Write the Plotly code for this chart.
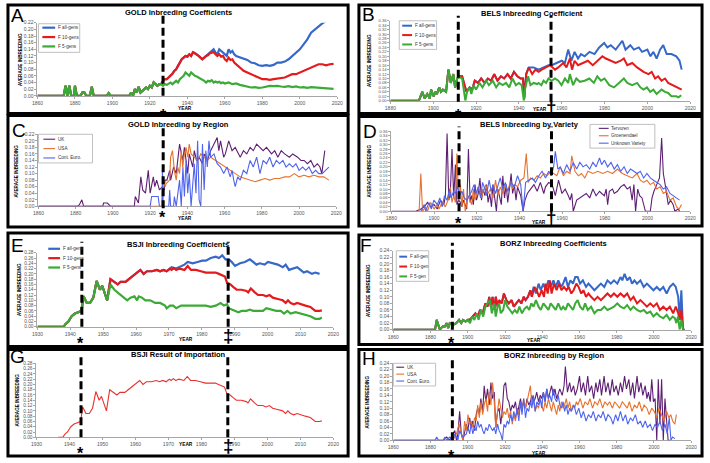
import plotly.graph_objects as go

W, H = 710, 463
def fx(px): return px / W
def fy(py): return 1 - py / H

FONT = "Liberation Sans, Arial, sans-serif"
C_BLUE, C_RED, C_GREEN = "#3568C8", "#E41A1C", "#3BAA36"
C_PUR, C_ORA, C_LBLUE = "#5E1F73", "#E8712C", "#4F64EE"

# ---------------- A: GOLD Inbreeding Coefficients ----------------
GOLD_early_yr = [1860, 1874, 1875, 1876, 1877, 1878, 1879.5, 1880, 1881, 1883, 1884, 1885, 1886, 1888, 1889, 1890,
                 1897, 1898, 1899, 1909, 1910, 1911, 1912, 1913, 1914, 1915, 1916, 1917, 1918, 1919, 1920, 1921,
                 1922, 1923, 1924, 1925, 1926]
GOLD_early_val = [0, 0, 0.03, 0, 0.03, 0, 0, 0.03, 0, 0, 0.01, 0.01, 0, 0, 0.027, 0,
                  0, 0.008, 0, 0, 0.01, 0, 0.02, 0.01, 0.027, 0.01, 0.015, 0.02, 0.025, 0.02, 0.03, 0.025,
                  0.04, 0.035, 0.03, 0.035, 0.035]
GOLD_5_yr = [1927, 1928, 1929, 1930, 1931, 1932, 1933, 1934, 1935, 1936, 1937, 1938, 1939, 1940, 1941, 1942, 1943,
             1944, 1945, 1946, 1947, 1948, 1949, 1950, 1951, 1952, 1953, 1954, 1955, 1956, 1957, 1958, 1959, 1960,
             1962, 1964, 1966, 1968, 1970, 1972, 1974, 1976, 1978, 1980, 1982, 1984, 1986, 1988, 1990, 1992, 1994,
             1996, 1998, 2000, 2002, 2004, 2006, 2008, 2010, 2012, 2014, 2016, 2018]
GOLD_5_val = [0.03, 0.035, 0.033, 0.037, 0.04, 0.035, 0.04, 0.045, 0.04, 0.05, 0.055, 0.06, 0.07, 0.065, 0.06, 0.07, 0.065,
              0.06, 0.058, 0.055, 0.05, 0.048, 0.045, 0.04, 0.045, 0.043, 0.047, 0.04, 0.043, 0.04, 0.042, 0.038, 0.04, 0.037,
              0.04, 0.035, 0.037, 0.033, 0.03, 0.028, 0.025, 0.026, 0.024, 0.025, 0.027, 0.03, 0.029, 0.03, 0.028, 0.027, 0.029,
              0.026, 0.028, 0.025, 0.026, 0.024, 0.026, 0.025, 0.025, 0.023, 0.022, 0.02, 0.021]
GOLD_10_yr = [1927, 1928, 1929, 1930, 1931, 1932, 1933, 1934, 1935, 1936, 1937, 1938, 1939, 1940, 1941, 1942, 1943,
              1944, 1945, 1946, 1947, 1948, 1949, 1950, 1951, 1952, 1953, 1954, 1955, 1956, 1957, 1958, 1959, 1960,
              1961, 1962, 1963, 1964, 1965, 1966, 1967, 1968, 1969, 1970, 1972, 1974, 1976, 1978, 1980, 1982, 1984,
              1986, 1988, 1990, 1992, 1994, 1996, 1998, 2000, 2002, 2004, 2006, 2008, 2010, 2012, 2014, 2016, 2018]
GOLD_10_val = [0.045, 0.05, 0.05, 0.055, 0.06, 0.066, 0.075, 0.08, 0.09, 0.1, 0.11, 0.115, 0.12, 0.118, 0.125, 0.12, 0.131,
               0.128, 0.125, 0.12, 0.115, 0.11, 0.115, 0.12, 0.122, 0.128, 0.13, 0.132, 0.125, 0.12, 0.125, 0.118, 0.12, 0.11,
               0.105, 0.115, 0.108, 0.11, 0.1, 0.095, 0.09, 0.085, 0.08, 0.075, 0.07, 0.065, 0.06, 0.055, 0.05, 0.05, 0.048,
               0.05, 0.052, 0.055, 0.055, 0.06, 0.065, 0.065, 0.07, 0.075, 0.08, 0.085, 0.09, 0.095, 0.095, 0.092, 0.095, 0.096]
GOLD_all_yr = [1950, 1951, 1952, 1953, 1954, 1955, 1956, 1957, 1958, 1959, 1960, 1961, 1962, 1963, 1964, 1965, 1966,
               1967, 1968, 1970, 1972, 1974, 1976, 1978, 1980, 1982, 1984, 1986, 1988, 1990, 1992, 1994, 1996, 1998,
               2000, 2002, 2004, 2006, 2008, 2010, 2012, 2014, 2016]
GOLD_all_val = [0.12, 0.125, 0.13, 0.135, 0.14, 0.13, 0.125, 0.14, 0.135, 0.13, 0.125, 0.12, 0.14, 0.13, 0.135, 0.125, 0.12,
                0.118, 0.115, 0.11, 0.108, 0.1, 0.098, 0.092, 0.09, 0.092, 0.09, 0.093, 0.1, 0.1, 0.103, 0.11, 0.12, 0.13,
                0.14, 0.155, 0.17, 0.19, 0.2, 0.21, 0.218, 0.225, 0.23]

# ---------------- B: BELS Inbreeding Coefficient ----------------
BELS_early_yr = [1880, 1893.3, 1894.9, 1896, 1897.2, 1898.4, 1899, 1900.2, 1901, 1901.7, 1902.8, 1903.6, 1904.5, 1906,
                 1907.1, 1908.2, 1909.4, 1910.2, 1911.2]
BELS_early_val = [0, 0, 0.04, 0.01, 0.03, 0.01, 0.05, 0.02, 0.04, 0.03, 0.06, 0.04, 0.05, 0.04, 0.14, 0.08, 0.12, 0.06, 0.1]
BELS_5_yr = [1912.5, 1913.5, 1914.2, 1915, 1915.8, 1917, 1917.8, 1918.8, 1920, 1921.6, 1923, 1924.7, 1926, 1927.8, 1929.4,
             1930.8, 1932.4, 1934, 1935.5, 1937, 1938.6, 1940, 1941.3, 1942.3, 1943, 1944.3, 1945.4, 1946.9, 1948.5, 1949.2,
             1950.5, 1951.5, 1952.7, 1953.8, 1955.3, 1956.8, 1958.4, 1959.9, 1961.5, 1963, 1963.8, 1965.3, 1966.8, 1968.5,
             1970.7, 1972.9, 1975, 1976.6, 1978.3, 1980, 1982.2, 1984.4, 1986.7, 1989, 1990.6, 1992.9, 1995.2, 1996.7,
             1998.2, 1999.8, 2001.3, 2002.8, 2004.3, 2006.6, 2008.2, 2009.7, 2011.2, 2013.5, 2014.5, 2015.8]
BELS_5_val = [0.105, 0.1, 0.06, 0.0, 0.04, 0.06, 0.03, 0.07, 0.05, 0.08, 0.06, 0.09, 0.07, 0.09, 0.06,
              0.08, 0.07, 0.08, 0.06, 0.1, 0.07, 0.08, 0.07, 0.0, 0.06, 0.11, 0.07, 0.08, 0.075, 0.08,
              0.07, 0.09, 0.08, 0.1, 0.09, 0.1, 0.09, 0.07, 0.1, 0.08, 0.12, 0.07, 0.1, 0.085,
              0.09, 0.1, 0.08, 0.11, 0.09, 0.1, 0.07, 0.06, 0.08, 0.1, 0.08, 0.07, 0.08, 0.06,
              0.05, 0.06, 0.04, 0.05, 0.03, 0.05, 0.04, 0.035, 0.02, 0.02, 0.015, 0.025]
BELS_10_yr = [1912.5, 1913.5, 1914.3, 1915.5, 1917, 1918.2, 1919.4, 1920.9, 1922.4, 1924, 1925.5, 1927, 1928.5, 1930,
              1931.6, 1933.1, 1934.7, 1936.2, 1937.7, 1939.3, 1940.8, 1941.9, 1942.5, 1943.4, 1944.6, 1946.2, 1947.7,
              1949.2, 1950.7, 1953, 1954.6, 1956.9, 1958.4, 1960.7, 1962.2, 1963.8, 1964.8, 1966, 1967.6, 1969.9, 1972.2,
              1974.5, 1976.8, 1979, 1980.6, 1982.9, 1985.2, 1987.5, 1989, 1990.6, 1992.9, 1995.2, 1996.7, 1998.2, 2000.5,
              2002, 2003.6, 2005, 2006.6, 2008.2, 2009.7, 2012, 2014.3, 2016]
BELS_10_val = [0.11, 0.11, 0.08, 0.04, 0.06, 0.05, 0.09, 0.08, 0.1, 0.08, 0.1, 0.09, 0.12, 0.09,
               0.11, 0.1, 0.12, 0.1, 0.13, 0.11, 0.1, 0.1, 0.01, 0.12, 0.15, 0.12, 0.14,
               0.13, 0.14, 0.15, 0.16, 0.14, 0.15, 0.17, 0.15, 0.19, 0.14, 0.18, 0.16, 0.17, 0.18,
               0.16, 0.18, 0.2, 0.19, 0.18, 0.17, 0.18, 0.19, 0.16, 0.17, 0.15, 0.14, 0.13, 0.12,
               0.13, 0.1, 0.11, 0.09, 0.1, 0.08, 0.07, 0.06, 0.05]
BELS_all_yr = [1946.9, 1949.2, 1951.5, 1953.8, 1955.3, 1957.6, 1960, 1961.5, 1963, 1964.5, 1966, 1967.6, 1969, 1970.7,
               1973, 1975.3, 1977.5, 1979.8, 1981.3, 1982.9, 1985.2, 1987.5, 1988.3, 1989.8, 1992, 1993.7, 1996, 1997.5,
               2000, 2001.4, 2002.8, 2004.3, 2005.9, 2007.4, 2009, 2011.2, 2013.5, 2015, 2016]
BELS_all_val = [0.15, 0.14, 0.15, 0.16, 0.16, 0.17, 0.18, 0.17, 0.23, 0.18, 0.22, 0.19, 0.21, 0.2,
                0.22, 0.21, 0.24, 0.26, 0.24, 0.25, 0.23, 0.26, 0.27, 0.23, 0.25, 0.23, 0.24, 0.22,
                0.23, 0.2, 0.22, 0.19, 0.23, 0.25, 0.21, 0.21, 0.2, 0.18, 0.14]

# ---------------- C: GOLD Inbreeding by Region ----------------
GOLDR_UK_yr = [1860, 1881, 1882, 1883.3, 1884.3, 1894.5, 1895, 1897, 1898.8, 1911.5, 1912, 1913, 1913.7, 1915, 1916,
               1917.5, 1919, 1920, 1921, 1921.7, 1922.5, 1923.5, 1925, 1926.6, 1927.5, 1928, 1929, 1930.5, 1931, 1932.6,
               1934, 1935.8, 1937.5, 1938.4, 1940.2, 1941, 1942.9, 1943.7, 1944.9, 1946.3, 1948.1, 1949, 1950.7, 1952.5,
               1954.3, 1956, 1956.9, 1957.8, 1959.5, 1960.4, 1962.2, 1964, 1965.7, 1968.4, 1970.1, 1971.9, 1973.7,
               1975.4, 1977.2, 1979, 1980.7, 1982.5, 1985.2, 1986.9, 1988.6, 1990.4, 1992.2, 1994.8, 1996.6, 1999.2,
               2001, 2002.7, 2004.5, 2006.3, 2008, 2009.8, 2011.2, 2012.2, 2013.8]
GOLDR_UK_val = [0, 0, 0.005, 0.02, 0, 0, 0.01, 0.01, 0, 0, 0.03, 0.02, 0.01, 0.09, 0.05,
                0.04, 0.11, 0.04, 0.07, 0.09, 0.06, 0.08, 0.05, 0.06, 0.05, 0.08, 0.08, 0.11, 0.08, 0.12,
                0.1, 0.19, 0.14, 0.18, 0.1, 0.16, 0.12, 0.17, 0.14, 0.15, 0.13, 0.16, 0.14, 0.17,
                0.19, 0.21, 0.17, 0.2, 0.15, 0.16, 0.2, 0.17, 0.18, 0.15, 0.17, 0.16, 0.18,
                0.17, 0.19, 0.18, 0.17, 0.18, 0.16, 0.17, 0.15, 0.17, 0.16, 0.15, 0.16, 0.15,
                0.14, 0.14, 0.13, 0.14, 0.12, 0.13, 0.12, 0.1, 0.17]
GOLDR_USA_yr = [1860, 1926.5, 1927, 1928, 1928.7, 1930.5, 1931, 1932, 1933, 1934, 1934.8, 1935.8, 1936.7, 1937.5, 1938.4,
                1939.3, 1940.2, 1941, 1942, 1943.7, 1945.5, 1947.2, 1949, 1950.7, 1952.5, 1955.2, 1957.8, 1960.4, 1963,
                1965.7, 1968.4, 1971, 1973.7, 1976.4, 1979, 1981.7, 1984.2, 1986.9, 1989.5, 1992.2, 1994.8, 1997.5, 2000,
                2002.7, 2005.3, 2008, 2010.7, 2013.3, 2016]
GOLDR_USA_val = [0, 0, 0.08, 0.06, 0.07, 0.08, 0.15, 0.17, 0.11, 0.08, 0.12, 0.1, 0.17, 0.12, 0.16,
                 0.18, 0.15, 0.19, 0.16, 0.15, 0.14, 0.16, 0.15, 0.14, 0.15, 0.14, 0.13, 0.12, 0.11,
                 0.1, 0.09, 0.085, 0.08, 0.075, 0.08, 0.085, 0.08, 0.085, 0.085, 0.09, 0.09, 0.1, 0.09,
                 0.095, 0.09, 0.095, 0.09, 0.09, 0.08]
GOLDR_EU_yr = [1860, 1920, 1920.8, 1922.5, 1924.3, 1925, 1926.3, 1926.6, 1927, 1930, 1930.5, 1931, 1932.6, 1933, 1934,
               1935.8, 1936.7, 1937.6, 1938.4, 1939.3, 1940.2, 1941, 1942, 1943.7, 1944.6, 1945.5, 1946.3, 1947.2,
               1948.1, 1949, 1949.9, 1950.7, 1951.6, 1952.5, 1954.3, 1956, 1957.8, 1959.5, 1961.3, 1963, 1964, 1964.9,
               1965.7, 1967, 1968.4, 1970.1, 1971.9, 1973.7, 1975.4, 1977.2, 1979, 1980.7, 1982.5, 1984.2, 1986,
               1987.8, 1989.5, 1991.3, 1993, 1994.8, 1996.6, 1998.3, 2000, 2001.9, 2003.6, 2005.3, 2007.1, 2008.9,
               2010.6, 2012.4, 2014, 2016]
GOLDR_EU_val = [0, 0, 0.03, 0.03, 0.03, 0, 0, 0.11, 0, 0, 0.05, 0, 0, 0.03, 0,
                0.08, 0, 0.12, 0.03, 0.14, 0.04, 0.1, 0, 0.13, 0.04, 0.2, 0.02, 0,
                0.19, 0.05, 0.17, 0.12, 0.2, 0.15, 0.16, 0.13, 0.12, 0.1, 0.12, 0.09, 0.11, 0.08,
                0.06, 0.09, 0.08, 0.11, 0.1, 0.14, 0.12, 0.15, 0.1, 0.14, 0.13, 0.15, 0.12,
                0.14, 0.13, 0.14, 0.12, 0.13, 0.12, 0.13, 0.11, 0.12, 0.11, 0.12, 0.1, 0.11,
                0.1, 0.1, 0.11, 0.12]

# ---------------- D: BELS Inbreeding by Variety ----------------
BELSV_TER_yr = [1880, 1891.5, 1893.8, 1895.4, 1896.9, 1898.4, 1900, 1901.5, 1903, 1904.6, 1905.3, 1906.1, 1906.9, 1907.6,
                1908.4, 1909.2, 1910, 1910.7, 1911.5, 1912.3, 1913, 1913.8, 1915.3, 1916.1, 1916.9, 1917.6, 1918.4, 1919.2,
                1919.9, 1920.7, 1921.5, 1922.2, 1923, 1923.8, 1924.6, 1925.3, 1926.1, 1926.9, 1927.6, 1928.4, 1929.2,
                1929.9, 1930.7, 1931.5, 1932.2, 1933, 1933.8, 1934.5, 1935.3, 1936.1, 1936.8, 1937.6, 1938.4, 1939.1,
                1940.6, 1941.7, 1942.6, 1943.7, 1945.2, 1946.8, 1948.3, 1949.8, 1951.4, 1952.2, 1953.7, 1955.3, 1956.8,
                1958.3, 1959.9, 1961.4, 1962.9, 1963.7, 1964.5, 1965.2, 1966.8, 1968.3, 1969.8, 1971.3, 1972.9, 1974.4,
                1975.9, 1977.5, 1978.5, 1979.8, 1980.6, 1981.3, 1982.1, 1983.6, 1984.4, 1985.9, 1987.4, 1989, 1990.5,
                1991.8, 1992.8, 1993.6, 1994.4, 1995.4, 1996.3, 1997.4, 1999, 2001.3, 2002.1, 2003, 2004.3, 2005.6,
                2006.6, 2007.4, 2008.6, 2009.7, 2010.8, 2012, 2012.8, 2014.3, 2015]
BELSV_TER_val = [0, 0, 0.01, 0.02, 0.04, 0.02, 0.03, 0.01, 0.05, 0.03, 0.07, 0.35, 0.05, 0.08,
                 0.28, 0.06, 0.21, 0.03, 0.05, 0.04, 0.02, 0.05, 0.01, 0.28, 0.04, 0.07, 0.03, 0.12,
                 0.05, 0.08, 0.15, 0.05, 0.1, 0.07, 0.12, 0.04, 0.08, 0.02, 0.12, 0.05, 0.0,
                 0.1, 0.07, 0.03, 0.16, 0.06, 0.12, 0.04, 0.1, 0.17, 0.08, 0.12, 0.05, 0.11,
                 0.07, 0.0, 0.05, 0.08, 0.1, 0.12, 0.09, 0.13, 0.08, 0.11, 0.13, 0.12, 0.07,
                 0.14, 0.08, 0.1, 0.07, 0.05, 0.08, 0.0, 0.05, 0.06, 0.07, 0.08, 0.06, 0.1,
                 0.07, 0.09, 0.08, 0.07, 0.1, 0.03, 0.09, 0.1, 0.08, 0.09, 0.11, 0.12, 0.1,
                 0.11, 0.05, 0.12, 0.0, 0.1, 0.07, 0.06, 0.0, 0.0, 0.06, 0.09, 0.12, 0.15,
                 0.33, 0.17, 0.1, 0.03, 0.05, 0.03, 0.0, 0.01, 0.0]
BELSV_GRO_yr = [1893, 1893.8, 1894.6, 1896, 1896.9, 1898.4, 1900, 1901.5, 1902.3, 1903.8, 1905.3, 1906.9, 1907.6, 1908.4,
                1909.2, 1910, 1910.7, 1911.5, 1912.3, 1913, 1913.8, 1914.6, 1916.1, 1917.6, 1918.4, 1919.2, 1919.9, 1920.7,
                1922.2, 1923, 1924.2, 1925.3, 1926.4, 1927.6, 1928.8, 1929.9, 1931, 1932.2, 1933.4, 1934.5, 1935.6, 1936.8,
                1938, 1939.1, 1940.6, 1942.1, 1943.2, 1944.1, 1945.2, 1946.8, 1948.3, 1949.8, 1951.4, 1952.9, 1954.5, 1956,
                1957.5, 1959.1, 1960.6, 1962.1, 1963.7, 1964.5, 1966, 1967.6, 1969.1, 1970.6, 1972.1, 1974.4, 1976.7, 1979,
                1981.3, 1983.6, 1985.9, 1988.2, 1990.5, 1992.8, 1995.1, 1996.6, 1998.2, 1999.7, 2001.3, 2002.8, 2004.3,
                2005.9, 2007.4, 2008.9, 2010.5, 2012, 2013.6, 2014.8, 2015.9]
BELSV_GRO_val = [0, 0.17, 0, 0.02, 0, 0.04, 0.01, 0.03, 0.01, 0.04, 0.02, 0.06, 0.11, 0.04,
                 0.07, 0.04, 0.26, 0.05, 0.12, 0.02, 0.1, 0.0, 0.07, 0.03, 0.1, 0.05, 0.07, 0.11,
                 0.06, 0.09, 0.12, 0.08, 0.1, 0.06, 0.14, 0.07, 0.11, 0.08, 0.12, 0.09, 0.13, 0.1,
                 0.12, 0.11, 0.14, 0.15, 0.26, 0.13, 0.15, 0.14, 0.16, 0.15, 0.17, 0.16, 0.18, 0.17,
                 0.16, 0.2, 0.16, 0.18, 0.17, 0.25, 0.18, 0.16, 0.17, 0.15, 0.18, 0.17, 0.18, 0.17,
                 0.18, 0.17, 0.19, 0.17, 0.16, 0.15, 0.17, 0.14, 0.13, 0.14, 0.12, 0.13, 0.1,
                 0.11, 0.08, 0.09, 0.05, 0.06, 0.02, 0.01, 0.03]
BELSV_UNK_yr = [1893.8, 1895.4, 1896.1, 1897.6, 1898.7, 1899.9, 1901.5, 1902.7, 1903.8, 1904.9, 1906.1, 1907.2, 1907.9,
                1909.2, 1910, 1911, 1912, 1913, 1914.2, 1915.3, 1916.5, 1917.6, 1918.7, 1919.6, 1920.7, 1921.8, 1922.7,
                1923.8, 1924.5, 1925.8, 1926.8, 1927.6, 1928.8, 1929.9, 1931, 1932.2, 1933.4, 1934.5, 1936.1, 1937.6,
                1939.1, 1940.6, 1941.7, 1942.9, 1944.5, 1946, 1947.5, 1949.1, 1950.6, 1952.2, 1953.7, 1954.9, 1956,
                1956.8, 1958, 1959.1, 1960.6, 1962.1, 1963.7, 1965.2, 1966.8, 1968.3, 1969.8, 1971.3, 1972.9, 1974.4,
                1975.9, 1977.5, 1978.5, 1979.8, 1981.3, 1982.9, 1984.4, 1985.9, 1987.4, 1989, 1990.5, 1992, 1993.6,
                1995.1, 1996.6, 1998.2, 1999.7, 2001.3, 2002.8, 2004.3, 2005.9, 2007.4, 2008.9, 2010.5, 2012, 2013.6, 2015]
BELSV_UNK_val = [0, 0.03, 0, 0.04, 0.01, 0.05, 0.03, 0.06, 0.02, 0.07, 0.05, 0.1, 0.06,
                 0.09, 0.08, 0.11, 0.07, 0.09, 0.06, 0.05, 0.07, 0.09, 0.12, 0.08, 0.11, 0.06, 0.13,
                 0.1, 0.07, 0.14, 0.09, 0.12, 0.08, 0.12, 0.15, 0.1, 0.13, 0.09, 0.13, 0.11,
                 0.16, 0.12, 0.0, 0.13, 0.14, 0.15, 0.13, 0.16, 0.18, 0.15, 0.18, 0.16, 0.2,
                 0.27, 0.19, 0.2, 0.17, 0.21, 0.18, 0.22, 0.19, 0.22, 0.2, 0.21, 0.19, 0.22,
                 0.2, 0.24, 0.21, 0.23, 0.2, 0.22, 0.19, 0.21, 0.18, 0.2, 0.17, 0.19, 0.18,
                 0.17, 0.18, 0.15, 0.17, 0.15, 0.14, 0.13, 0.12, 0.1, 0.11, 0.08, 0.07, 0.06, 0.05]

# ---------------- E: BSJI Inbreeding Coefficients ----------------
BSJI_early_yr = [1930, 1938, 1938.5, 1939.4, 1940.4, 1941.4, 1942.4, 1943.4, 1944, 1945, 1946, 1947, 1948, 1949, 1949.7,
                 1950.4, 1951.2]
BSJI_early_val = [0, 0, 0.01, 0.02, 0.04, 0.05, 0.055, 0.06, 0.115, 0.09, 0.09, 0.11, 0.173, 0.14, 0.155, 0.13, 0.1]
BSJI_5_yr = [1952.2, 1953.4, 1954.8, 1956.3, 1957.3, 1958.3, 1959.5, 1960.3, 1960.8, 1961.8, 1962.8, 1964.3, 1965.8, 1967.3,
             1968.8, 1969.3, 1970.3, 1971.3, 1972.2, 1973.7, 1975.7, 1977.7, 1979.7, 1981.2, 1982.7, 1984.2, 1985.7,
             1986.7, 1987.7, 1988.1, 1989.1, 1990.1, 1991.1, 1992.1, 1993.6, 1994.6, 1995.6, 1997.1, 1998.6, 1999.6,
             2001.1, 2002.6, 2004, 2005, 2006, 2007, 2008.5, 2010, 2011.5, 2013, 2014.5, 2015.8, 2016.5]
BSJI_5_val = [0.16, 0.14, 0.125, 0.11, 0.1, 0.11, 0.115, 0.1, 0.115, 0.11, 0.1, 0.1, 0.09, 0.09,
              0.08, 0.07, 0.08, 0.08, 0.07, 0.08, 0.08, 0.08, 0.08, 0.08, 0.075, 0.08, 0.09,
              0.08, 0.085, 0.07, 0.065, 0.06, 0.055, 0.06, 0.06, 0.065, 0.06, 0.06, 0.06, 0.07,
              0.065, 0.06, 0.06, 0.05, 0.06, 0.05, 0.055, 0.05, 0.045, 0.04, 0.03, 0.03, 0.035]
BSJI_10_yr = [1952.2, 1953.4, 1954.4, 1955.3, 1956.8, 1957.8, 1958.8, 1959.8, 1960.8, 1961.3, 1962.3, 1963.3, 1964.8,
              1966.3, 1967.3, 1968.3, 1969.3, 1970.3, 1970.8, 1971.5, 1972.2, 1973.2, 1974.7, 1975.7, 1976.7, 1978.2,
              1979.7, 1981.2, 1982.7, 1984.2, 1985.2, 1986.2, 1987, 1987.7, 1988.7, 1989.6, 1990.6, 1992.1, 1993.6,
              1994.1, 1994.9, 1996.1, 1997.1, 1998.6, 1999.6, 2000.6, 2001.6, 2003.1, 2004.6, 2005.5, 2006.2, 2007,
              2008, 2009, 2010, 2011.5, 2013, 2014.5, 2015.8, 2016.5]
BSJI_10_val = [0.18, 0.17, 0.16, 0.17, 0.17, 0.18, 0.19, 0.2, 0.21, 0.215, 0.2, 0.21, 0.21,
               0.215, 0.21, 0.215, 0.21, 0.22, 0.215, 0.222, 0.215, 0.22, 0.215, 0.23, 0.215, 0.215,
               0.21, 0.205, 0.205, 0.205, 0.2, 0.195, 0.19, 0.165, 0.16, 0.15, 0.14, 0.14, 0.135,
               0.13, 0.145, 0.13, 0.12, 0.12, 0.115, 0.12, 0.11, 0.105, 0.1, 0.09, 0.1, 0.09,
               0.085, 0.09, 0.085, 0.08, 0.075, 0.06, 0.06, 0.062]
BSJI_all_yr = [1970.8, 1972.2, 1973.7, 1974.7, 1975.7, 1977.2, 1978.7, 1980.1, 1981.2, 1982.7, 1984.2, 1985.2, 1986.2,
               1987.2, 1988.2, 1989.1, 1990.1, 1991.6, 1993.1, 1994.6, 1995.6, 1996.6, 1997.6, 1999.1, 2000.1, 2001.6,
               2003.1, 2004.6, 2005.5, 2006.5, 2007.5, 2009, 2010, 2011, 2012, 2013.5, 2014.5, 2015.8]
BSJI_all_val = [0.225, 0.22, 0.23, 0.235, 0.245, 0.24, 0.245, 0.25, 0.25, 0.26, 0.265, 0.26, 0.27,
                0.255, 0.255, 0.245, 0.23, 0.24, 0.245, 0.255, 0.245, 0.235, 0.24, 0.235, 0.245, 0.24,
                0.235, 0.225, 0.235, 0.215, 0.22, 0.225, 0.215, 0.205, 0.21, 0.2, 0.205, 0.2]

# ---------------- F: BORZ Inbreeding Coefficients ----------------
BORZ_early_yr = [1860, 1882.4, 1883.3, 1884.2, 1885, 1886.5, 1887.7, 1888.6, 1889.5, 1890.3, 1892, 1893.8, 1895.3,
                 1896.5, 1897.4, 1898.8, 1900]
BORZ_early_val = [0, 0, 0.03, 0.01, 0.0, 0.01, 0.01, 0.02, 0.005, 0.02, 0.015, 0.02, 0.03, 0.02, 0.03, 0.025, 0.03]
BORZ_5_yr = [1901.2, 1902.3, 1903.5, 1904.8, 1905.8, 1907, 1908.3, 1909.4, 1910.6, 1911.9, 1912.9, 1914.2, 1915, 1916,
             1916.8, 1917.7, 1919, 1920, 1921.3, 1922.4, 1923.9, 1925.3, 1926.5, 1927.7, 1929.1, 1930.6, 1931.8, 1933,
             1934.1, 1935.3, 1936.6, 1938, 1939.2, 1940.6, 1941.8, 1943.3, 1944.5, 1946, 1947.2, 1948.6, 1950.1, 1951.2,
             1952.5, 1953.8, 1955.1, 1956.5, 1957.7, 1959, 1960.3, 1961.8, 1963, 1964.4, 1966.2, 1968, 1969.7, 1971.5,
             1973.3, 1975, 1976.8, 1978.5, 1980.3, 1982, 1983.9, 1985.6, 1987.4, 1989, 1990.9, 1992.7, 1994.5, 1996.2,
             1998, 1999.7, 2001.5, 2003.2, 2005, 2006.8, 2008.5, 2010, 2011.2, 2012, 2012.9, 2013.8, 2014.7, 2015.6, 2016.5]
BORZ_5_val = [0.02, 0.04, 0.03, 0.05, 0.03, 0.06, 0.04, 0.07, 0.08, 0.09, 0.05, 0.08, 0.04, 0.07,
              0.08, 0.05, 0.06, 0.09, 0.07, 0.06, 0.05, 0.06, 0.05, 0.07, 0.05, 0.065, 0.07, 0.06,
              0.08, 0.07, 0.09, 0.07, 0.06, 0.08, 0.07, 0.06, 0.08, 0.07, 0.06, 0.08, 0.06, 0.07,
              0.06, 0.08, 0.07, 0.06, 0.08, 0.09, 0.07, 0.06, 0.08, 0.06, 0.07, 0.05, 0.06, 0.06,
              0.07, 0.06, 0.065, 0.07, 0.08, 0.07, 0.065, 0.075, 0.06, 0.07, 0.06, 0.055, 0.06, 0.05,
              0.055, 0.04, 0.05, 0.04, 0.035, 0.045, 0.03, 0.04, 0.035, 0.02, 0.04, 0.0, 0.03, 0.0, 0.0]
BORZ_10_yr = [1901, 1902.7, 1904.1, 1905.3, 1906.6, 1908, 1909.4, 1910.6, 1911.5, 1912.4, 1913.3, 1914.2, 1915, 1916,
              1916.8, 1918.2, 1919.4, 1920.7, 1922, 1923.5, 1924.7, 1926, 1927.4, 1928.8, 1930, 1931, 1932.3, 1933.6,
              1934.4, 1935.8, 1937, 1938.3, 1939.7, 1940.9, 1941.8, 1942.9, 1944.1, 1945, 1946.3, 1947.7, 1949, 1950.3,
              1951.6, 1953, 1954.2, 1955.6, 1956.8, 1958.3, 1959.5, 1960.9, 1962.1, 1963.5, 1964.8, 1966.2, 1968, 1969.7,
              1971.5, 1973.3, 1975, 1976.8, 1978.5, 1980.3, 1982, 1983.9, 1985.6, 1987.4, 1989, 1990.9, 1992.7, 1994.5,
              1996.2, 1998, 1999.7, 2001.5, 2003.2, 2005, 2006.8, 2008.5, 2010.3, 2011.7, 2013, 2013.8, 2014.7, 2015.6, 2016.5]
BORZ_10_val = [0.03, 0.04, 0.05, 0.04, 0.06, 0.05, 0.08, 0.07, 0.1, 0.07, 0.1, 0.06, 0.1, 0.07,
               0.09, 0.08, 0.11, 0.09, 0.08, 0.09, 0.07, 0.08, 0.09, 0.08, 0.1, 0.09, 0.1, 0.12,
               0.1, 0.13, 0.12, 0.1, 0.12, 0.1, 0.14, 0.11, 0.15, 0.11, 0.14, 0.12, 0.14, 0.12,
               0.13, 0.12, 0.13, 0.11, 0.12, 0.14, 0.13, 0.11, 0.12, 0.1, 0.11, 0.1, 0.09, 0.1,
               0.09, 0.1, 0.11, 0.1, 0.11, 0.1, 0.11, 0.1, 0.11, 0.09, 0.1, 0.08, 0.09, 0.08,
               0.07, 0.08, 0.07, 0.08, 0.06, 0.07, 0.06, 0.07, 0.05, 0.07, 0.05, 0.03, 0.06, 0.0, 0.0]
BORZ_all_yr = [1935.3, 1936.6, 1938, 1939.2, 1940.6, 1941.8, 1943.3, 1944.5, 1946, 1947.2, 1948.6, 1950.1, 1951.2, 1952.5,
               1953.8, 1955.1, 1956.5, 1957.7, 1959, 1960.3, 1961.8, 1963.5, 1964.8, 1966.2, 1968, 1969.7, 1971.5, 1973.3,
               1975, 1976.8, 1978.5, 1980.3, 1982, 1983, 1984.2, 1985.6, 1987, 1988.2, 1989.5, 1990.9, 1992.7, 1994.5,
               1996.2, 1998, 1999.7, 2001.5, 2003.2, 2005, 2006.8, 2008.5, 2010.3, 2011.7, 2013, 2013.8, 2014.7, 2015.6, 2016.5]
BORZ_all_val = [0.13, 0.11, 0.14, 0.12, 0.14, 0.12, 0.15, 0.13, 0.15, 0.13, 0.15, 0.13, 0.14, 0.16,
                0.13, 0.15, 0.14, 0.16, 0.16, 0.14, 0.15, 0.13, 0.14, 0.13, 0.12, 0.13, 0.14, 0.13,
                0.15, 0.14, 0.15, 0.14, 0.16, 0.15, 0.17, 0.15, 0.16, 0.14, 0.15, 0.14, 0.15, 0.13,
                0.14, 0.13, 0.12, 0.13, 0.12, 0.13, 0.11, 0.13, 0.14, 0.13, 0.1, 0.03, 0.12, 0.0, 0.0]

# ---------------- H: BORZ Inbreeding by Region ----------------
BORZR_UK_yr = [1860, 1886.8, 1888.6, 1890.3, 1892, 1893, 1893.9, 1894.7, 1895.6, 1896.5, 1897.4, 1899.2, 1900, 1901,
               1901.8, 1902.7, 1903.6, 1904.5, 1905.3, 1906.2, 1907, 1908, 1908.8, 1909.7, 1910.6, 1911.5, 1912.4, 1913.3,
               1914.2, 1915, 1916, 1916.8, 1917.7, 1918.6, 1919.4, 1920.3, 1921.2, 1922, 1923, 1923.9, 1924.7, 1925.6,
               1926.5, 1927.4, 1928.3, 1929.1, 1930, 1931, 1931.8, 1932.7, 1933.6, 1934.4, 1935.3, 1936.2, 1937, 1938,
               1938.9, 1939.7, 1940.6, 1941.5, 1942.4, 1943.3, 1944.1, 1945, 1945.9, 1946.8, 1947.7, 1948.6, 1949.4,
               1950.7, 1951.7, 1952.4, 1953.5, 1954.7, 1955.6, 1956.8, 1957.7, 1958.8, 1960, 1960.9, 1962.1, 1963.2,
               1964.4, 1965.3, 1966.5, 1967.6, 1968.8, 1969.7, 1970.9, 1971.8, 1973.2, 1974.1, 1975.3, 1976.4, 1977.6,
               1978.5, 1979.7, 1980.8, 1982, 1983, 1984.2, 1985.2, 1986.5, 1987.4, 1988.6, 1989.5, 1990.9, 1991.8, 1993,
               1994, 1995.3, 1996.2, 1997, 1998, 1998.8, 1999.7, 2000.6, 2001.5, 2002.3, 2003.2, 2004.1, 2005, 2005.9,
               2006.8, 2007.6, 2008.5]
BORZR_UK_val = [0, 0, 0.01, 0.0, 0.02, 0.03, 0.0, 0.02, 0.09, 0.02, 0.0, 0.05, 0.03, 0.07,
                0.04, 0.06, 0.03, 0.08, 0.1, 0.08, 0.13, 0.09, 0.17, 0.12, 0.16, 0.11, 0.18, 0.13,
                0.15, 0.04, 0.09, 0.1, 0.05, 0.1, 0.17, 0.18, 0.13, 0.12, 0.09, 0.11, 0.1, 0.12,
                0.08, 0.11, 0.13, 0.1, 0.12, 0.1, 0.13, 0.11, 0.12, 0.14, 0.12, 0.13, 0.15, 0.12,
                0.14, 0.13, 0.15, 0.12, 0.16, 0.13, 0.15, 0.17, 0.14, 0.16, 0.13, 0.15, 0.16,
                0.14, 0.17, 0.23, 0.15, 0.18, 0.15, 0.17, 0.14, 0.16, 0.2, 0.15, 0.18, 0.14,
                0.2, 0.15, 0.17, 0.13, 0.18, 0.15, 0.19, 0.14, 0.2, 0.15, 0.18, 0.14, 0.19,
                0.15, 0.17, 0.14, 0.18, 0.15, 0.2, 0.16, 0.19, 0.14, 0.18, 0.13, 0.2, 0.15, 0.18,
                0.14, 0.17, 0.13, 0.15, 0.12, 0.19, 0.12, 0.13, 0.0, 0.19, 0.05, 0.19, 0.0, 0.13,
                0.06, 0.0, 0.0]
BORZR_USA_yr = [1892, 1893.9, 1895.3, 1896.5, 1897.4, 1898.3, 1899.2, 1900.1, 1901, 1901.8, 1902.7, 1903.6, 1904.5,
                1905.3, 1906.2, 1907.1, 1908, 1908.8, 1909.7, 1910.6, 1911.5, 1912.4, 1913.3, 1914.2, 1915, 1916, 1916.8,
                1917.7, 1918.6, 1919.4, 1920.3, 1921.2, 1922, 1923, 1923.9, 1924.7, 1925.6, 1926.5, 1927.4, 1928.3,
                1929.1, 1930, 1931, 1931.8, 1932.7, 1933.6, 1934.4, 1935.3, 1936.2, 1937.1, 1938, 1938.9, 1939.7, 1940.6,
                1941.5, 1942.4, 1943.3, 1944.1, 1945, 1945.9, 1946.8, 1947.7, 1948.6, 1949.4, 1950.3, 1951.2, 1952,
                1952.9, 1953.8, 1954.7, 1955.6, 1956.5, 1957.4, 1958.3, 1959.1, 1960.4, 1961.8, 1963, 1964.4, 1965.6,
                1967, 1968.2, 1969.7, 1970.9, 1972.4, 1973.6, 1975, 1976.2, 1977.7, 1978.9, 1980.3, 1981.5, 1983, 1984.2,
                1985.6, 1986.8, 1988.2, 1989.5, 1990.9, 1992.1, 1993.5, 1994.7, 1996.2, 1997.4, 1998.8, 2000.1, 2001.5,
                2002.7, 2004.1, 2005.4, 2006.8, 2008, 2009, 2010, 2011.2, 2012]
BORZR_USA_val = [0, 0.02, 0.05, 0.02, 0.0, 0.06, 0.03, 0.08, 0.05, 0.06, 0.04, 0.07, 0.06,
                 0.11, 0.07, 0.12, 0.08, 0.11, 0.13, 0.09, 0.15, 0.11, 0.18, 0.12, 0.04, 0.09, 0.13,
                 0.1, 0.07, 0.09, 0.08, 0.1, 0.07, 0.09, 0.05, 0.08, 0.06, 0.1, 0.08, 0.12,
                 0.09, 0.13, 0.1, 0.12, 0.15, 0.17, 0.11, 0.12, 0.09, 0.11, 0.1, 0.13, 0.11, 0.09,
                 0.12, 0.1, 0.13, 0.11, 0.09, 0.12, 0.1, 0.08, 0.11, 0.09, 0.12, 0.1, 0.11,
                 0.13, 0.1, 0.12, 0.09, 0.11, 0.1, 0.12, 0.11, 0.13, 0.1, 0.12, 0.11, 0.13,
                 0.1, 0.12, 0.11, 0.13, 0.1, 0.12, 0.11, 0.12, 0.1, 0.12, 0.11, 0.1, 0.12, 0.11,
                 0.1, 0.12, 0.09, 0.11, 0.1, 0.12, 0.09, 0.11, 0.1, 0.08, 0.1, 0.09, 0.07,
                 0.1, 0.08, 0.06, 0.09, 0.07, 0.08, 0.06, 0.05, 0.08]
BORZR_EU_yr = [1860, 1882.4, 1883.3, 1884.2, 1886.8, 1887.7, 1888.6, 1890.3, 1892, 1893, 1893.9, 1894.7, 1895.6, 1897.4,
               1899.2, 1900.1, 1901, 1901.8, 1902.7, 1903.6, 1904.5, 1905.3, 1906.2, 1907.1, 1908, 1908.8, 1909.7, 1910.6,
               1911.5, 1912.4, 1913.3, 1914.2, 1915, 1916, 1916.8, 1917.7, 1918.6, 1919.4, 1920.3, 1921.2, 1922, 1923,
               1923.9, 1924.7, 1925.6, 1926.5, 1927.4, 1928.3, 1929.1, 1930, 1931, 1931.8, 1932.7, 1933.6, 1934.4, 1935.3,
               1936.2, 1937.1, 1938, 1938.9, 1939.7, 1940.6, 1941.5, 1942.4, 1943.3, 1944.1, 1945, 1945.9, 1946.8, 1947.7,
               1948.6, 1949.4, 1950.3, 1951.2, 1952, 1952.9, 1953.8, 1954.7, 1955.6, 1957, 1958.3, 1959.6, 1960.9, 1962.1,
               1963.5, 1964.8, 1966.2, 1967.4, 1968.8, 1970.1, 1971.5, 1972.7, 1974.1, 1975.3, 1976.8, 1978, 1979.4,
               1980.6, 1982, 1983.3, 1984.7, 1985.9, 1987.4, 1988.6, 1990, 1991.3, 1992.7, 1993.9, 1995.3, 1996.5, 1998,
               1999.2, 2000.6, 2001.9, 2003.2, 2004.5, 2005.9, 2007.1, 2008.2, 2009.1, 2010, 2011.2]
BORZR_EU_val = [0, 0, 0.01, 0.0, 0.0, 0.01, 0.0, 0.01, 0.0, 0.02, 0.01, 0.0, 0.03, 0.01,
                0.02, 0.04, 0.02, 0.05, 0.02, 0.04, 0.03, 0.06, 0.04, 0.05, 0.03, 0.02, 0.04, 0.03,
                0.05, 0.04, 0.03, 0.04, 0.02, 0.05, 0.03, 0.02, 0.0, 0.05, 0.04, 0.06, 0.05, 0.08,
                0.06, 0.09, 0.07, 0.1, 0.06, 0.12, 0.08, 0.13, 0.07, 0.1, 0.09, 0.12, 0.1, 0.14,
                0.09, 0.12, 0.11, 0.13, 0.1, 0.15, 0.12, 0.16, 0.13, 0.14, 0.12, 0.16, 0.13, 0.12,
                0.14, 0.11, 0.1, 0.12, 0.09, 0.11, 0.08, 0.1, 0.09, 0.11, 0.08, 0.1, 0.07, 0.09,
                0.06, 0.08, 0.07, 0.09, 0.06, 0.08, 0.07, 0.09, 0.06, 0.08, 0.07, 0.05, 0.08,
                0.06, 0.09, 0.06, 0.08, 0.05, 0.07, 0.06, 0.08, 0.05, 0.06, 0.04, 0.06, 0.04, 0.05,
                0.03, 0.05, 0.04, 0.06, 0.03, 0.05, 0.02, 0.07, 0.0, 0.01, 0.005]

# ---------------- assemble ----------------
def upto(xs, ys, limit):
    pts = [(a, b) for a, b in zip(xs, ys) if a <= limit]
    return [p[0] for p in pts], [p[1] for p in pts]

fig = go.Figure()

# id, x range, x pixel span, y range, y pixel span (bottom, top), x dtick, y tick font size
PANELS = [
    ("",  (1860, 2020), (32, 337),  (0, 0.22), (94, 20),   20, 5.0),
    ("2", (1880, 2020), (391, 696), (0, 0.36), (99, 18),   20, 4.2),
    ("3", (1860, 2020), (33, 336),  (0, 0.22), (206, 133), 20, 5.0),
    ("4", (1880, 2020), (392, 696), (0, 0.36), (211, 130), 20, 4.2),
    ("5", (1930, 2020), (32, 333),  (0, 0.28), (328, 253), 10, 4.8),
    ("6", (1860, 2020), (394, 697), (0, 0.24), (331, 251), 20, 5.0),
    ("7", (1930, 2020), (31, 333),  (0, 0.28), (440, 365), 10, 4.8),
    ("8", (1860, 2020), (394, 697), (0, 0.24), (443, 365), 20, 5.0),
]

for pid, xr, xpx, yr, ypx, dtx, yfs in PANELS:
    fig.layout["xaxis" + pid] = dict(
        domain=[fx(xpx[0]), fx(xpx[1])], range=list(xr), anchor="y" + pid, dtick=dtx, tick0=xr[0],
        showline=True, linecolor="#a6a6a6", linewidth=1, ticks="outside", ticklen=2, tickcolor="#a6a6a6",
        tickfont=dict(size=5, color="#555555", family=FONT), showgrid=False, zeroline=False, layer="below traces",
        fixedrange=True)
    fig.layout["yaxis" + pid] = dict(
        domain=[fy(ypx[0]), fy(ypx[1])], range=list(yr), anchor="x" + pid, dtick=0.02, tick0=0,
        tickformat=".2f", showline=True, linecolor="#a6a6a6", linewidth=1, ticks="outside", ticklen=2,
        tickcolor="#a6a6a6", tickfont=dict(size=yfs, color="#555555", family=FONT), showgrid=False,
        zeroline=False, layer="below traces", fixedrange=True)

def add(xs, ys, pid, color, width):
    fig.add_trace(go.Scatter(x=xs, y=ys, mode="lines", line=dict(color=color, width=width),
                             xaxis="x" + pid, yaxis="y" + pid, showlegend=False, hoverinfo="skip"))

# A
rx, ry = upto(GOLD_10_yr, GOLD_10_val, 1949)
add(GOLD_early_yr + rx + GOLD_all_yr, GOLD_early_val + ry + GOLD_all_val, "", C_BLUE, 2.2)
add(GOLD_early_yr + GOLD_10_yr, GOLD_early_val + GOLD_10_val, "", C_RED, 2.2)
add(GOLD_early_yr + GOLD_5_yr, GOLD_early_val + GOLD_5_val, "", C_GREEN, 2.2)
# B
rx, ry = upto(BELS_10_yr, BELS_10_val, 1944.6)
add(BELS_early_yr + rx + BELS_all_yr, BELS_early_val + ry + BELS_all_val, "2", C_BLUE, 2.0)
add(BELS_early_yr + BELS_10_yr, BELS_early_val + BELS_10_val, "2", C_RED, 2.0)
add(BELS_early_yr + BELS_5_yr, BELS_early_val + BELS_5_val, "2", C_GREEN, 2.0)
# C
add(GOLDR_UK_yr, GOLDR_UK_val, "3", C_PUR, 1.1)
add(GOLDR_USA_yr, GOLDR_USA_val, "3", C_ORA, 1.1)
add(GOLDR_EU_yr, GOLDR_EU_val, "3", C_LBLUE, 1.1)
# D
add(BELSV_TER_yr, BELSV_TER_val, "4", C_PUR, 1.1)
add(BELSV_GRO_yr, BELSV_GRO_val, "4", C_ORA, 1.1)
add(BELSV_UNK_yr, BELSV_UNK_val, "4", C_LBLUE, 1.1)
# E
rx, ry = upto(BSJI_10_yr, BSJI_10_val, 1970.3)
add(BSJI_early_yr + rx + BSJI_all_yr, BSJI_early_val + ry + BSJI_all_val, "5", C_BLUE, 2.2)
add(BSJI_early_yr + BSJI_10_yr, BSJI_early_val + BSJI_10_val, "5", C_RED, 2.2)
add(BSJI_early_yr + BSJI_5_yr, BSJI_early_val + BSJI_5_val, "5", C_GREEN, 2.2)
# F
rx, ry = upto(BORZ_10_yr, BORZ_10_val, 1934.4)
add(BORZ_early_yr + rx + BORZ_all_yr, BORZ_early_val + ry + BORZ_all_val, "6", C_BLUE, 2.0)
add(BORZ_early_yr + BORZ_10_yr, BORZ_early_val + BORZ_10_val, "6", C_RED, 2.0)
add(BORZ_early_yr + BORZ_5_yr, BORZ_early_val + BORZ_5_val, "6", C_GREEN, 2.0)
# G (BSJI result of importation = F 10-gens line, shown from 1936)
gx = [1936.6] + [x for x in BSJI_early_yr if x >= 1938] + BSJI_10_yr
gy = [0] + [v for x, v in zip(BSJI_early_yr, BSJI_early_val) if x >= 1938] + BSJI_10_val
add(gx, gy, "7", "#E8302E", 1.1)
# H
add(BORZR_UK_yr, BORZR_UK_val, "8", C_PUR, 1.1)
add(BORZR_USA_yr, BORZR_USA_val, "8", C_ORA, 1.1)
add(BORZR_EU_yr, BORZR_EU_val, "8", C_LBLUE, 1.1)

shapes, ann = [], []

# panel frames
FRAMES = [(2, 348, 2, 112), (359, 708, 2, 112), (2, 348, 114, 227), (359, 708, 115, 226),
          (2, 348, 233, 348), (359, 708, 235, 346), (2, 348, 351, 459), (359, 708, 351, 459)]
for x0, x1, y0, y1 in FRAMES:
    shapes.append(dict(type="rect", xref="paper", yref="paper", x0=fx(x0), x1=fx(x1), y0=fy(y1), y1=fy(y0),
                       line=dict(color="black", width=3), fillcolor="rgba(0,0,0,0)", layer="above"))

# dashed event lines: axis id, year, top px, bottom px
DASH = [("", 1927, 12, 94), ("2", 1911.7, 13, 100), ("2", 1955, 13, 100), ("3", 1927, 127, 208),
        ("4", 1911.7, 125, 211), ("4", 1955, 125, 211), ("5", 1943.5, 242, 328), ("5", 1988, 242, 328),
        ("6", 1891.7, 243, 331), ("7", 1943.5, 355, 440), ("7", 1988, 355, 440), ("8", 1891.7, 358, 443)]
for pid, yr_, t, b in DASH:
    shapes.append(dict(type="line", xref="x" + pid, yref="paper", x0=yr_, x1=yr_, y0=fy(b), y1=fy(t),
                       line=dict(color="black", width=3, dash="8px,4px"), layer="above"))

def text(x, y, s, size, bold=False, color="black", angle=0, xanchor="center", yanchor="middle"):
    ann.append(dict(x=fx(x), y=fy(y), xref="paper", yref="paper", text=("<b>%s</b>" % s) if bold else s,
                    showarrow=False, font=dict(size=size, color=color, family=FONT), textangle=angle,
                    xanchor=xanchor, yanchor=yanchor))

# letters
for L, x, y in [("A", 3, 13), ("B", 360, 12), ("C", 4, 129), ("D", 361, 130), ("E", 3, 246), ("F", 358, 246),
                ("G", 2, 358), ("H", 360, 360)]:
    text(x, y, L, 19, xanchor="left")
# titles
for s, x, y in [("GOLD Inbreeding Coefficients", 175, 10), ("BELS Inbreeding Coefficient", 535, 11),
                ("GOLD Inbreeding by Region", 175, 123), ("BELS Inbreeding by Variety", 533, 123),
                ("BSJI Inbreeding Coefficients", 175, 245), ("BORZ Inbreeding Coefficients", 557, 244),
                ("BSJI Result of Importation", 175, 356), ("BORZ Inbreeding by Region", 557, 357)]:
    text(x, y, s, 7.5, bold=True)
# y titles
for x, y in [(15, 57), (370, 58), (11, 170), (370, 170), (13, 290), (368, 291), (12, 402), (368, 404)]:
    text(x, y, "AVERAGE INBREEDING", 4.6, bold=True, angle=-90)
# x titles
for x, y in [(182, 107), (543, 108), (182, 218), (542, 222), (183, 341), (537, 342), (183, 447), (542, 456)]:
    text(x, y, "YEAR", 4.8, bold=True)
# stars and daggers
for x, y in [(160, 113.5), (460, 113.5), (159, 217), (460, 223), (76, 345), (453, 345), (76, 456.5), (453, 459)]:
    text(x, y, "*", 16, bold=True)
for x, y, s in [(555, 105.5, "†"), (555, 217, "†"), (226, 336.5, "‡"), (226, 448.5, "‡")]:
    text(x, y, s, 19, bold=True)

# legends: (box or None, [(label, color, y)], line x0, x1, width)
LEG = [
    ((33, 75, 21, 50), [("F all-gens", C_BLUE, 25), ("F 10-gens", C_RED, 34.5), ("F 5-gens", C_GREEN, 44)], 37, 50, 2.2),
    ((400, 438, 18, 47), [("F all-gens", C_BLUE, 23), ("F 10-gens", C_RED, 32.5), ("F 5-gens", C_GREEN, 42)], 403, 413, 2.0),
    ((33, 88, 133, 162), [("UK", C_PUR, 138), ("USA", C_ORA, 147.5), ("Cont. Euro.", C_LBLUE, 157)], 38, 50, 1.1),
    ((594, 660, 123, 147), [("Tervuren", C_PUR, 127), ("Groenendael", C_ORA, 134.5), ("Unknown Variety", C_LBLUE, 142)], 603, 613, 1.1),
    (None, [("F all-gens", C_BLUE, 249), ("F 10-gens", C_RED, 258.5), ("F 5-gens", C_GREEN, 268)], 43, 55, 2.2),
    ((397, 430, 251, 282), [("F all-gen", C_BLUE, 257), ("F 10-gen", C_RED, 267), ("F 5-gen", C_GREEN, 277)], 400, 408, 2.0),
    ((394, 437, 365, 388), [("UK", C_PUR, 369), ("USA", C_ORA, 376), ("Cont. Euro.", C_LBLUE, 383)], 397, 405, 1.1),
]
for box, items, lx0, lx1, lw in LEG:
    if box:
        shapes.append(dict(type="rect", xref="paper", yref="paper", x0=fx(box[0]), x1=fx(box[1]),
                           y0=fy(box[3]), y1=fy(box[2]), line=dict(color="#b0b0b0", width=0.8),
                           fillcolor="white", layer="above"))
    for lab, col, y in items:
        shapes.append(dict(type="line", xref="paper", yref="paper", x0=fx(lx0), x1=fx(lx1), y0=fy(y), y1=fy(y),
                           line=dict(color=col, width=lw), layer="above"))
        text(lx1 + 0.5, y, lab, 4.6, color="#333333", xanchor="left")

fig.update_layout(width=W, height=H, margin=dict(l=0, r=0, t=0, b=0), paper_bgcolor="white",
                  plot_bgcolor="white", shapes=shapes, annotations=ann, showlegend=False,
                  font=dict(family=FONT), hovermode=False)
fig.write_html("out.html", config={"displayModeBar": False, "staticPlot": True},
               post_script="document.body.style.margin='0';document.body.style.padding='0';")
